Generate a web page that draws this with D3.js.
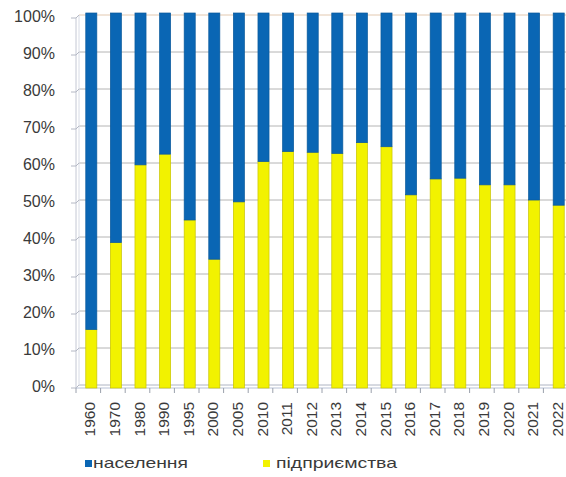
<!DOCTYPE html>
<html>
<head>
<meta charset="utf-8">
<script src="https://cdn.jsdelivr.net/npm/d3@7"></script>
<style>
  html, body { margin: 0; padding: 0; background: #fff; }
  svg { display: block; font-family: "Liberation Sans", Arial, sans-serif; }
</style>
</head>
<body>
<svg id="chart" width="566" height="477"></svg>
<script>
// ---- data ----
const years = ["1960","1970","1980","1990","1995","2000","2005","2010","2011","2012","2013","2014","2015","2016","2017","2018","2019","2020","2021","2022"];
// share of enterprises (підприємства), %
const enterprises = [15.0, 38.5, 59.5, 62.4, 44.6, 34.0, 49.5, 60.4, 63.1, 62.9, 62.6, 65.5, 64.4, 51.4, 55.7, 55.9, 54.1, 54.1, 50.0, 48.6];
// share of population (населення), % (remainder to 100)
const population = enterprises.map(v => 100 - v);
const seriesNames = ["населення", "підприємства"];
const seriesColors = ["#0a66b4", "#f2f200"];
const yTicks = [0,10,20,30,40,50,60,70,80,90,100];

// ---- layout ----
const svg = d3.select("#chart");
const plotLeft = 79, plotRight = 571, yTop = 15, yBottom = 385, depth = 3;

const x = d3.scaleBand().domain(years).range([plotLeft, plotRight]).paddingInner(0.55).paddingOuter(0.275);
const y = d3.scaleLinear().domain([0, 100]).range([yBottom, yTop]);

// gridlines (back wall)
svg.append("g").selectAll("line").data(yTicks).join("line")
  .attr("x1", plotLeft).attr("x2", 566)
  .attr("y1", d => y(d)).attr("y2", d => y(d))
  .attr("stroke", d => d === 100 ? "#e3c9b0" : "#b4b4b4")
  .attr("stroke-width", 1);

// left axis with 3D-ish ticks
const axisG = svg.append("g");
axisG.append("line").attr("x1", plotLeft - depth).attr("x2", plotLeft - depth)
  .attr("y1", y(100) + depth).attr("y2", y(0) + depth)
  .attr("stroke", "#c4c8d4");
axisG.append("line").attr("x1", plotLeft).attr("x2", plotLeft)
  .attr("y1", y(100)).attr("y2", y(0))
  .attr("stroke", "#d8dce6");
axisG.selectAll("path.tk").data(yTicks).join("path").attr("class","tk")
  .attr("d", d => `M${plotLeft - depth - 5},${y(d) + depth}L${plotLeft - depth},${y(d) + depth}L${plotLeft},${y(d)}`)
  .attr("fill", "none").attr("stroke", "#b4b8c4");

// y labels
svg.append("g").selectAll("text").data(yTicks).join("text")
  .attr("x", 55).attr("y", d => y(d) + 1)
  .attr("dy", "0.35em")
  .attr("text-anchor", "end")
  .attr("font-size", "16px")
  .attr("fill", "#3a3a3a")
  .text(d => d + "%");

// floor
svg.append("line").attr("x1", plotLeft).attr("x2", 566).attr("y1", y(0)).attr("y2", y(0)).attr("stroke", "#d4dae8");
svg.append("line").attr("x1", plotLeft - depth).attr("x2", 566).attr("y1", y(0) + depth).attr("y2", y(0) + depth).attr("stroke", "#b8c2d6");

// x ticks between categories
const step = x.step();
const tickXs = years.map((d, i) => plotLeft + step * i).concat([plotLeft + step * years.length]);
svg.append("g").selectAll("line").data(tickXs).join("line")
  .attr("x1", d => d - depth).attr("x2", d => d - depth)
  .attr("y1", y(0) + depth).attr("y2", y(0) + depth + 5)
  .attr("stroke", "#9aa0ac");

// stacked bars
const data = years.map((yr, i) => ({ year: yr, "підприємства": enterprises[i], "населення": population[i] }));
const stack = d3.stack().keys(["підприємства", "населення"]);
const stacked = stack(data);
const colorOf = { "населення": seriesColors[0], "підприємства": seriesColors[1] };
const strokeOf = { "населення": "#0b5a9c", "підприємства": "#c8c400" };

const topOf = d => (d[1] >= 100 ? y(d[1]) - 2 : y(d[1]));
const bottomOf = d => (d[0] === 0 ? y(d[0]) + depth : y(d[0]));

svg.append("g").selectAll("g").data(stacked).join("g")
  .attr("fill", d => colorOf[d.key])
  .attr("stroke", d => strokeOf[d.key])
  .attr("stroke-width", 0.7)
  .selectAll("rect").data(d => d).join("rect")
  .attr("x", d => x(d.data.year))
  .attr("width", x.bandwidth())
  .attr("y", d => topOf(d))
  .attr("height", d => bottomOf(d) - topOf(d));

// x labels (rotated)
svg.append("g").selectAll("text").data(years).join("text")
  .attr("transform", d => `translate(${x(d) + x.bandwidth() / 2 + 4},402) rotate(-90)`)
  .attr("text-anchor", "end")
  .attr("font-size", "15.5px")
  .attr("fill", "#3a3a3a")
  .text(d => d);

// legend
const legendItems = [
  { name: seriesNames[0], color: seriesColors[0], sx: 85, tx: 93, len: 95 },
  { name: seriesNames[1], color: seriesColors[1], sx: 263, tx: 276, len: 121 }
];
const lg = svg.append("g");
lg.selectAll("rect").data(legendItems).join("rect")
  .attr("x", d => d.sx).attr("y", 460).attr("width", 7).attr("height", 7)
  .attr("fill", d => d.color);
lg.selectAll("text").data(legendItems).join("text")
  .attr("x", d => d.tx).attr("y", 468)
  .attr("font-size", "15px")
  .attr("fill", "#3a3a3a")
  .attr("textLength", d => d.len)
  .attr("lengthAdjust", "spacingAndGlyphs")
  .text(d => d.name);
</script>
</body>
</html>
